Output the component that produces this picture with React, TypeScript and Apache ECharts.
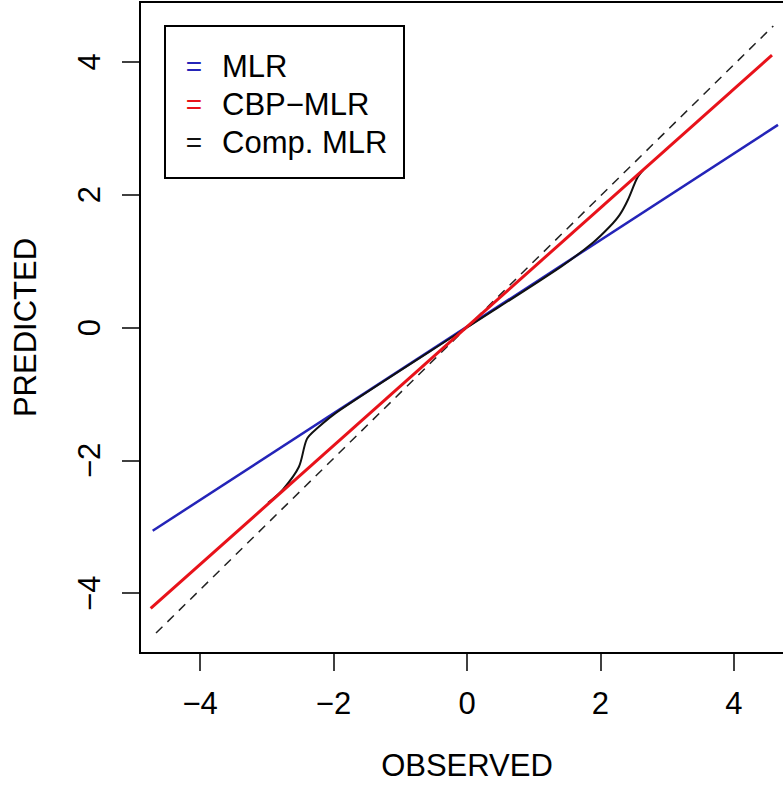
import React, { useEffect, useRef } from "react";
import * as echarts from "echarts";

const tickValues = [-4, -2, 0, 2, 4];
const legendLabels = ["MLR", "CBP−MLR", "Comp. MLR"];
const seriesColors = ["#2424b8", "#e8121a", "#111111"];

// y = x reference (dashed)
const identityLine: [number, number][] = [
  [-4.66, -4.6],
  [4.59, 4.54],
];
// MLR
const mlrLine: [number, number][] = [
  [-4.71, -3.06],
  [4.66, 3.05],
];
// CBP-MLR
const cbpLine: [number, number][] = [
  [-4.74, -4.23],
  [4.57, 4.1],
];
// Composite MLR
const compLine: [number, number][] = [
  [-2.98, -2.64],
  [-2.76, -2.44],
  [-2.52, -2.1],
  [-2.4, -1.68],
  [-2.25, -1.52],
  [-1.9, -1.24],
  [0, 0],
  [1.4, 0.91],
  [1.89, 1.28],
  [2.14, 1.52],
  [2.29, 1.7],
  [2.41, 1.92],
  [2.55, 2.25],
  [2.64, 2.37],
];

const FONT = "'Liberation Sans', Arial, Helvetica, sans-serif";
const fmt = (v: number) => (v < 0 ? "−" + Math.abs(v) : String(v));

export default function App() {
  const ref = useRef<HTMLDivElement>(null);
  useEffect(() => {
    if (!ref.current) return;
    const chart = echarts.init(ref.current, null, { renderer: "svg" });
    const axisCommon = {
      type: "value",
      min: -4.9,
      max: 4.9,
      splitLine: { show: false },
      axisLine: { show: false, onZero: false },
      axisTick: {
        show: true,
        length: 18,
        inside: false,
        customValues: tickValues,
        lineStyle: { color: "#000", width: 1.5 },
      },
      nameLocation: "middle",
      nameTextStyle: { fontSize: 31, color: "#000", fontFamily: FONT },
    };
    chart.setOption({
      animation: false,
      backgroundColor: "#fff",
      grid: {
        left: 140,
        top: 2,
        right: 0,
        bottom: 133,
        show: true,
        borderColor: "#000",
        borderWidth: 2,
        backgroundColor: "transparent",
      },
      xAxis: {
        ...axisCommon,
        name: "OBSERVED",
        nameGap: 97,
        axisLabel: {
          customValues: tickValues,
          formatter: fmt,
          fontSize: 31,
          color: "#000",
          fontFamily: FONT,
          margin: 35,
        },
      },
      yAxis: {
        ...axisCommon,
        name: "PREDICTED",
        nameGap: 99,
        axisLabel: {
          customValues: tickValues,
          formatter: fmt,
          fontSize: 31,
          color: "#000",
          fontFamily: FONT,
          rotate: 90,
          margin: 35,
        },
      },
      series: [
        {
          type: "line",
          data: identityLine,
          symbol: "none",
          lineStyle: { color: "#222", width: 1.5, type: [9, 7] },
          z: 1,
        },
        {
          type: "line",
          name: legendLabels[0],
          data: mlrLine,
          symbol: "none",
          lineStyle: { color: seriesColors[0], width: 2.5 },
          z: 2,
        },
        {
          type: "line",
          name: legendLabels[2],
          data: compLine,
          symbol: "none",
          smooth: 0.3,
          lineStyle: { color: seriesColors[2], width: 2 },
          z: 3,
        },
        {
          type: "line",
          name: legendLabels[1],
          data: cbpLine,
          symbol: "none",
          lineStyle: { color: seriesColors[1], width: 3 },
          z: 4,
        },
      ],
      graphic: [
        {
          type: "rect",
          shape: { x: 165, y: 26, width: 239, height: 152 },
          style: { fill: "#fff", stroke: "#000", lineWidth: 2 },
          z: 100,
        },
        ...legendLabels.flatMap((lab, i) => [
          {
            type: "text",
            x: 194,
            y: 66 + i * 38,
            style: {
              text: "=",
              fill: seriesColors[i],
              font: `28px ${FONT}`,
              align: "center",
              verticalAlign: "middle",
            },
            z: 101,
          },
          {
            type: "text",
            x: 222,
            y: 66 + i * 38,
            style: {
              text: lab,
              fill: "#000",
              font: `31px ${FONT}`,
              align: "left",
              verticalAlign: "middle",
            },
            z: 101,
          },
        ]),
      ],
    });
    return () => chart.dispose();
  }, []);
  return (
    <div
      style={{
        position: "absolute",
        left: 0,
        top: 0,
        width: 783,
        height: 786,
        overflow: "hidden",
      }}
    >
      <div ref={ref} style={{ width: 794, height: 786 }} />
    </div>
  );
}
